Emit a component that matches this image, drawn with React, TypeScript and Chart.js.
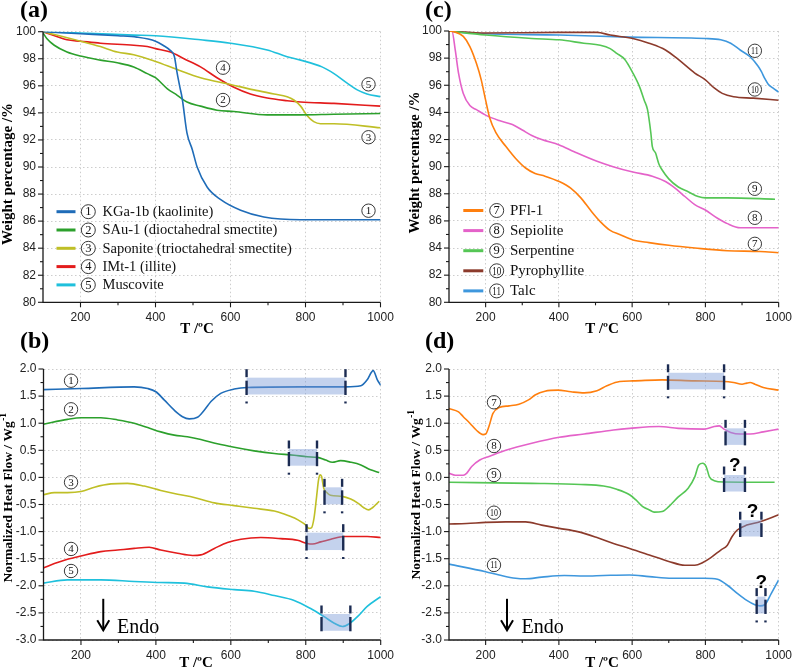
import React, { useEffect, useRef } from "react";
import { Chart, registerables } from "chart.js";
Chart.register(...registerables);

// ---------- axis ticks ----------
const tempTicks = [200, 400, 600, 800, 1000];
const tempMinor = [300, 500, 700, 900];
const tgaTicks = [80, 82, 84, 86, 88, 90, 92, 94, 96, 98, 100];
const tgaMinor = [81, 83, 85, 87, 89, 91, 93, 95, 97, 99];
const dscTicks = [-3, -2.5, -2, -1.5, -1, -0.5, 0, 0.5, 1, 1.5, 2];
const dscMinor = [-2.75, -2.25, -1.75, -1.25, -0.75, -0.25, 0.25, 0.75, 1.25, 1.75];

// ---------- (a) TGA, group 1 ----------
const kgaT = [100, 200, 300, 350, 400, 420, 440, 450, 458, 465, 471, 484, 498, 511, 538, 573, 627, 689, 787, 900, 1000];
const kgaW = [100, 99.85, 99.7, 99.6, 99.3, 99.0, 98.6, 98.2, 96.9, 95.9, 95.1, 92.5, 91.3, 90.0, 88.5, 87.6, 86.8, 86.3, 86.1, 86.1, 86.1];
const sauT = [100, 110, 130, 164, 200, 253, 298, 342, 378, 400, 431, 458, 484, 520, 564, 609, 698, 787, 876, 1000];
const sauW = [99.9, 99.5, 99.0, 98.5, 98.2, 97.9, 97.7, 97.4, 96.9, 96.6, 95.8, 95.3, 94.8, 94.5, 94.2, 94.1, 93.85, 93.85, 93.9, 93.95];
const sapT = [100, 200, 253, 298, 342, 400, 458, 520, 600, 662, 716, 751, 769, 787, 804, 822, 840, 876, 1000];
const sapW = [100, 99.3, 98.9, 98.5, 98.3, 97.8, 97.2, 96.6, 96.1, 95.7, 95.4, 95.2, 94.95, 94.5, 93.8, 93.35, 93.2, 93.2, 92.9];
const imtT = [100, 164, 200, 253, 342, 378, 400, 440, 476, 520, 564, 609, 653, 698, 751, 787, 876, 1000];
const imtW = [100, 99.4, 99.3, 99.15, 99.0, 98.9, 98.75, 98.5, 98.0, 97.4, 96.6, 95.9, 95.4, 95.1, 94.9, 94.8, 94.7, 94.5];
const musT = [100, 200, 342, 400, 520, 600, 698, 751, 787, 844, 876, 911, 938, 964, 1000];
const musW = [100, 99.9, 99.75, 99.7, 99.4, 99.15, 98.65, 98.15, 97.9, 97.4, 96.9, 96.2, 95.7, 95.4, 95.2];

// ---------- (c) TGA, group 2 ----------
const pflT = [100, 113, 139, 157, 175, 188, 200, 211, 228, 255, 282, 309, 335, 362, 401, 433, 460, 486, 513, 540, 566, 602, 646, 700, 771, 860, 949, 1000];
const pflW = [100, 99.95, 99.6, 98.85, 97.6, 96.4, 94.9, 93.6, 92.5, 91.5, 90.6, 89.9, 89.5, 89.3, 88.9, 88.4, 87.7, 86.8, 85.95, 85.3, 85.0, 84.6, 84.4, 84.2, 84.0, 83.8, 83.75, 83.65];
const sepT = [100, 108, 117, 126, 139, 157, 175, 200, 237, 273, 300, 326, 353, 401, 442, 504, 548, 602, 655, 691, 718, 744, 771, 800, 833, 860, 895, 1000];
const sepW = [100, 100, 98.6, 96.9, 95.4, 94.5, 94.2, 93.8, 93.4, 93.1, 92.7, 92.3, 92.0, 91.6, 91.1, 90.4, 90.0, 89.6, 89.3, 88.9, 88.4, 87.8, 87.2, 86.8, 86.2, 85.8, 85.5, 85.5];
const serT = [100, 200, 326, 401, 468, 513, 540, 558, 580, 602, 620, 633, 642, 651, 655, 664, 673, 682, 700, 726, 753, 780, 800, 860, 990];
const serW = [100, 99.7, 99.45, 99.35, 99.1, 98.95, 98.7, 98.35, 97.9, 96.9, 95.9, 94.9, 94.2, 92.5, 91.5, 91.0, 90.2, 89.75, 89.1, 88.5, 88.15, 87.8, 87.7, 87.7, 87.6];
const pyrT = [100, 200, 401, 504, 540, 602, 646, 691, 726, 771, 800, 824, 846, 877, 931, 1000];
const pyrW = [100, 99.85, 99.9, 99.9, 99.7, 99.45, 99.1, 98.6, 97.9, 96.9, 96.4, 95.8, 95.4, 95.15, 95.05, 94.9];
const talcT = [100, 149, 401, 593, 800, 842, 869, 895, 922, 944, 953, 962, 971, 984, 1000];
const talcW = [100, 99.85, 99.7, 99.55, 99.45, 99.35, 99.1, 98.6, 98.1, 97.4, 97.0, 96.5, 96.1, 95.8, 95.5];

// ---------- (b) DSC, group 1 ----------
const kgaHT = [100, 200, 342, 378, 400, 422, 449, 471, 489, 511, 529, 547, 573, 609, 644, 787, 907, 947, 964, 980, 991, 1000];
const kgaHF = [1.62, 1.64, 1.67, 1.64, 1.58, 1.43, 1.24, 1.12, 1.08, 1.11, 1.24, 1.40, 1.55, 1.63, 1.66, 1.67, 1.67, 1.69, 1.80, 1.97, 1.80, 1.70];
const sauHT = [100, 164, 200, 253, 298, 342, 378, 413, 449, 484, 520, 564, 609, 662, 716, 769, 804, 831, 853, 871, 893, 920, 947, 973, 996];
const sauHF = [0.98, 1.07, 1.10, 1.10, 1.06, 1.00, 0.92, 0.84, 0.78, 0.75, 0.70, 0.62, 0.555, 0.49, 0.44, 0.41, 0.38, 0.37, 0.32, 0.28, 0.31, 0.28, 0.23, 0.14, 0.09];
const sapHT = [100, 129, 164, 200, 236, 280, 324, 369, 413, 458, 502, 556, 609, 662, 716, 740, 770, 790, 800, 808, 815, 822, 829, 834, 838, 842, 848, 856, 866, 897, 920, 940, 955, 968, 978, 996];
const sapHF = [-0.32, -0.28, -0.28, -0.26, -0.18, -0.12, -0.11, -0.16, -0.24, -0.31, -0.37, -0.47, -0.52, -0.57, -0.62, -0.67, -0.75, -0.83, -0.88, -0.94, -0.93, -0.75, -0.35, -0.05, 0.05, 0.02, -0.2, -0.28, -0.33, -0.35, -0.40, -0.48, -0.56, -0.60, -0.56, -0.44];
const imtHT = [100, 129, 164, 200, 253, 298, 342, 382, 413, 458, 498, 520, 556, 591, 627, 680, 733, 778, 804, 818, 840, 867, 902, 964, 1000];
const imtHF = [-1.67, -1.59, -1.51, -1.45, -1.37, -1.34, -1.31, -1.29, -1.34, -1.40, -1.44, -1.43, -1.31, -1.20, -1.14, -1.11, -1.13, -1.16, -1.22, -1.23, -1.19, -1.14, -1.09, -1.09, -1.11];
const musHT = [100, 164, 253, 342, 413, 476, 538, 609, 662, 716, 769, 813, 849, 876, 898, 916, 938, 964, 1000];
const musHF = [-1.95, -1.89, -1.89, -1.92, -1.94, -1.95, -2.02, -2.07, -2.10, -2.18, -2.27, -2.42, -2.57, -2.69, -2.75, -2.70, -2.57, -2.38, -2.20];

// ---------- (d) DSC, group 2 ----------
const pflHT = [100, 126, 139, 157, 175, 193, 200, 209, 220, 237, 264, 291, 317, 335, 362, 397, 433, 469, 504, 531, 566, 602, 682, 771, 851, 877, 900, 913, 922, 935, 958, 1000];
const pflHF = [1.27, 1.21, 1.12, 1.00, 0.87, 0.79, 0.80, 0.94, 1.18, 1.29, 1.32, 1.35, 1.43, 1.52, 1.59, 1.61, 1.58, 1.56, 1.60, 1.69, 1.77, 1.78, 1.80, 1.78, 1.77, 1.75, 1.72, 1.74, 1.75, 1.72, 1.66, 1.61];
const sepHT = [100, 117, 139, 148, 162, 184, 211, 255, 326, 401, 469, 549, 593, 673, 726, 797, 824, 838, 851, 869, 895, 922, 958, 1000];
const sepHF = [0.075, 0.04, 0.04, 0.075, 0.2, 0.32, 0.39, 0.5, 0.63, 0.74, 0.80, 0.875, 0.905, 0.94, 0.905, 0.89, 0.94, 0.95, 0.89, 0.83, 0.80, 0.80, 0.84, 0.89];
const serHT = [100, 326, 460, 522, 558, 593, 611, 629, 647, 660, 682, 700, 726, 753, 771, 782, 793, 802, 811, 824, 851, 989];
const serHF = [-0.09, -0.11, -0.13, -0.16, -0.22, -0.32, -0.42, -0.54, -0.60, -0.64, -0.63, -0.54, -0.36, -0.20, 0.01, 0.23, 0.26, 0.20, 0.01, -0.06, -0.085, -0.09];
const pyrHT = [100, 148, 200, 255, 309, 353, 401, 451, 504, 549, 593, 647, 700, 744, 771, 793, 815, 842, 860, 873, 887, 913, 949, 1000];
const pyrHF = [-0.86, -0.85, -0.83, -0.82, -0.82, -0.88, -0.94, -1.00, -1.11, -1.22, -1.31, -1.43, -1.55, -1.62, -1.62, -1.57, -1.48, -1.34, -1.25, -1.09, -0.97, -0.88, -0.82, -0.69];
const talcHT = [100, 200, 237, 282, 309, 353, 415, 469, 522, 593, 647, 709, 797, 833, 860, 887, 913, 935, 949, 962, 980, 1000];
const talcHF = [-1.60, -1.74, -1.80, -1.86, -1.87, -1.84, -1.81, -1.82, -1.81, -1.80, -1.83, -1.86, -1.86, -1.88, -1.99, -2.14, -2.27, -2.35, -2.37, -2.35, -2.14, -1.89];

// ---------- names, numbers, colours ----------
const namesA = ["KGa-1b (kaolinite)", "SAu-1 (dioctahedral smectite)", "Saponite (trioctahedral smectite)", "IMt-1 (illite)", "Muscovite"];
const numsA = [1, 2, 3, 4, 5];
const colorsA = ["#1f6cb8", "#2ca02c", "#bfbf26", "#e31c1c", "#1fc0dc"];
const namesC = ["PFl-1", "Sepiolite", "Serpentine", "Pyrophyllite", "Talc"];
const numsC = [7, 8, 9, 10, 11];
const colorsC = ["#ff7f0e", "#e462c9", "#55c655", "#8c3b2c", "#3e97dd"];

// ---------- annotations: [number, T, value] ----------
const tagsA = [[4, 580, 97.34], [2, 580, 94.95], [5, 968, 96.11], [3, 968, 92.2], [1, 968, 86.77]];
const tagsB = [[1, 173.5, 1.784], [2, 173.5, 1.256], [3, 173.5, -0.09], [4, 173.5, -1.32], [5, 173.5, -1.727]];
const tagsC = [[11, 935, 98.54], [10, 935, 95.69], [9, 935, 88.37], [8, 935, 86.23], [7, 935, 84.31]];
const tagsD = [[7, 222.8, 1.386], [8, 222.8, 0.579], [9, 222.8, 0.044], [10, 222.8, -0.651], [11, 222.8, -1.616]];
// boxes: [T0, T1, v0, v1, dot]
const boxesB = [[642, 906, 1.53, 1.84, 1], [755, 830, 0.216, 0.524, 1], [850, 897, -0.497, -0.183, 1], [802, 900, -1.34, -1.02, 1], [842, 919, -2.83, -2.52, 0]];
const boxesD = [[698, 851, 1.625, 1.93, 1], [855, 908, 0.6, 0.905, 0], [851, 908, -0.26, 0.044, 0], [895, 953, -1.09, -0.79, 0], [940, 964, -2.51, -2.2, 1]];
const questionsD = [[880, 0.109], [928.7, -0.725], [952.7, -2.04]];

const serif = '"Liberation Serif", "Times New Roman", serif';
const sans = '"Liberation Sans", Arial, sans-serif';

function circled(ctx: any, x: number, y: number, r: number, n: number, size: number) {
  ctx.beginPath();
  ctx.arc(x, y, r, 0, Math.PI * 2);
  ctx.lineWidth = 0.9;
  ctx.strokeStyle = "#222";
  ctx.stroke();
  ctx.fillStyle = "#111";
  ctx.textAlign = "center";
  ctx.textBaseline = "middle";
  const s = String(n);
  if (s.length > 1) {
    ctx.save();
    ctx.translate(x, y + 0.5);
    ctx.scale(0.72, 1);
    ctx.font = `${size}px ${serif}`;
    ctx.fillText(s, 0, 0);
    ctx.restore();
  } else {
    ctx.font = `${size}px ${serif}`;
    ctx.fillText(s, x, y + 0.5);
  }
}

function seg(ctx: any, x0: number, y0: number, x1: number, y1: number) {
  ctx.beginPath();
  ctx.moveTo(x0, y0);
  ctx.lineTo(x1, y1);
  ctx.stroke();
}

const decor = {
  id: "decor",
  afterDatasetsDraw(chart: any, _a: any, o: any) {
    const { ctx, scales } = chart;
    const x = scales.x, y = scales.y;
    (o.boxes || []).forEach((b: number[]) => {
      const x0 = x.getPixelForValue(b[0]), x1 = x.getPixelForValue(b[1]);
      const yb = y.getPixelForValue(b[2]), yt = y.getPixelForValue(b[3]);
      ctx.save();
      ctx.fillStyle = "rgba(125,155,215,0.45)";
      ctx.fillRect(x0, yt, x1 - x0, yb - yt);
      ctx.strokeStyle = "#1b2b52";
      ctx.lineWidth = 2.4;
      for (const xx of [x0, x1]) {
        const top = yt - 8.5;
        seg(ctx, xx, top, xx, top + 8);
        seg(ctx, xx, top + 11.5, xx, yb + 0.5);
        if (b[4]) seg(ctx, xx, yb + 7, xx, yb + 9);
      }
      ctx.restore();
    });
  },
  afterDraw(chart: any, _a: any, o: any) {
    const { ctx, chartArea: ca, scales } = chart;
    const x = scales.x, y = scales.y;
    ctx.save();
    // axes + tick marks
    ctx.strokeStyle = "#1a1a1a";
    ctx.lineWidth = 1.3;
    ctx.beginPath();
    ctx.moveTo(ca.left, ca.top);
    ctx.lineTo(ca.left, ca.bottom);
    ctx.lineTo(ca.right, ca.bottom);
    ctx.stroke();
    ctx.lineWidth = 1.1;
    tempTicks.forEach((v) => { const p = x.getPixelForValue(v); seg(ctx, p, ca.bottom, p, ca.bottom + 5); });
    tempMinor.forEach((v) => { const p = x.getPixelForValue(v); seg(ctx, p, ca.bottom, p, ca.bottom + 3); });
    o.yMajor.forEach((v: number) => { const p = y.getPixelForValue(v); seg(ctx, ca.left - 5, p, ca.left, p); });
    o.yMinor.forEach((v: number) => { const p = y.getPixelForValue(v); seg(ctx, ca.left - 3, p, ca.left, p); });

    // panel letter
    ctx.fillStyle = "#000";
    ctx.font = `bold 24px ${serif}`;
    ctx.textAlign = "left";
    ctx.textBaseline = "alphabetic";
    ctx.fillText(o.letter, o.letterPos[0], o.letterPos[1]);

    // x title
    ctx.font = `bold 15px ${serif}`;
    ctx.textAlign = "center";
    ctx.fillText("T /ºC", o.xTitlePos[0], o.xTitlePos[1]);

    // y title
    ctx.save();
    ctx.translate(o.yTitlePos[0], o.yTitlePos[1]);
    ctx.rotate(-Math.PI / 2);
    ctx.textBaseline = "middle";
    ctx.font = `bold ${o.yTitleSize}px ${serif}`;
    const w1 = ctx.measureText(o.yTitle).width;
    let w2 = 0;
    if (o.yTitleSup) {
      ctx.font = `bold ${o.yTitleSize - 4}px ${serif}`;
      w2 = ctx.measureText(o.yTitleSup).width;
    }
    const start = -(w1 + w2) / 2;
    ctx.textAlign = "left";
    ctx.font = `bold ${o.yTitleSize}px ${serif}`;
    ctx.fillText(o.yTitle, start, 0);
    if (o.yTitleSup) {
      ctx.font = `bold ${o.yTitleSize - 4}px ${serif}`;
      ctx.fillText(o.yTitleSup, start + w1 + 0.5, -5);
    }
    ctx.restore();

    // circled tags on curves
    (o.tags || []).forEach((t: number[]) => {
      circled(ctx, x.getPixelForValue(t[1]), y.getPixelForValue(t[2]), 6.7, t[0], 11);
    });

    // legend
    if (o.legend) {
      const L = o.legend;
      chart.data.datasets.forEach((ds: any, i: number) => {
        const yy = L.y0 + i * L.dy;
        ctx.strokeStyle = ds.borderColor;
        ctx.lineWidth = 3;
        seg(ctx, L.x0, yy, L.x1, yy);
        circled(ctx, L.cx, yy, 7, L.nums[i], 12.5);
        ctx.fillStyle = "#111";
        ctx.font = `${L.size}px ${serif}`;
        ctx.textAlign = "left";
        ctx.textBaseline = "middle";
        ctx.fillText(ds.label, L.tx, yy + 0.5);
      });
    }

    // Endo arrow
    if (o.endo) {
      const e = o.endo;
      const ax = x.getPixelForValue(e[0]);
      const ay0 = y.getPixelForValue(e[1]), ay1 = y.getPixelForValue(e[2]);
      ctx.strokeStyle = "#000";
      ctx.lineWidth = 2;
      seg(ctx, ax, ay0, ax, ay1);
      ctx.beginPath();
      ctx.moveTo(ax - 6, ay1 - 10);
      ctx.lineTo(ax, ay1);
      ctx.lineTo(ax + 6, ay1 - 10);
      ctx.stroke();
      ctx.fillStyle = "#000";
      ctx.font = `20px ${serif}`;
      ctx.textAlign = "left";
      ctx.textBaseline = "alphabetic";
      ctx.fillText("Endo", x.getPixelForValue(e[3]), y.getPixelForValue(e[4]));
    }

    // question marks
    (o.questions || []).forEach((q: number[]) => {
      ctx.fillStyle = "#000";
      ctx.font = `bold 19px ${sans}`;
      ctx.textAlign = "center";
      ctx.textBaseline = "alphabetic";
      ctx.fillText("?", x.getPixelForValue(q[0]), y.getPixelForValue(q[1]));
    });
    ctx.restore();
  },
};

type Panel = {
  series: { label: string; color: string; t: number[]; v: number[] }[];
  yMin: number; yMax: number; yTicks: number[]; yMinor: number[]; fmt: (v: number) => string;
  area: { l: number; r: number; t: number; b: number };
  decor: any;
};

function mk(names: string[], colors: string[], ts: number[][], vs: number[][]) {
  return names.map((n, i) => ({ label: n, color: colors[i], t: ts[i], v: vs[i] }));
}

const fmtInt = (v: number) => String(v);
const fmt1 = (v: number) => v.toFixed(1);

const panels: Panel[] = [
  {
    series: mk(namesA, colorsA, [kgaT, sauT, sapT, imtT, musT], [kgaW, sauW, sapW, imtW, musW]),
    yMin: 80, yMax: 100, yTicks: tgaTicks, yMinor: tgaMinor, fmt: fmtInt,
    area: { l: 43, r: 380.5, t: 31.7, b: 302.3 },
    decor: {
      letter: "(a)", letterPos: [20, 17], xTitlePos: [197, 333], yTitlePos: [8.5, 174], yTitle: "Weight percentage /%", yTitleSize: 15,
      tags: tagsA,
      legend: { x0: 56.5, x1: 75.5, cx: 88.3, tx: 102.5, y0: 211.7, dy: 18.3, size: 14.5, nums: numsA },
    },
  },
  {
    series: mk(namesA, colorsA, [kgaHT, sauHT, sapHT, imtHT, musHT], [kgaHF, sauHF, sapHF, imtHF, musHF]),
    yMin: -3, yMax: 2, yTicks: dscTicks, yMinor: dscMinor, fmt: fmt1,
    area: { l: 43.5, r: 380.7, t: 369, b: 640 },
    decor: {
      letter: "(b)", letterPos: [20, 348], xTitlePos: [196, 667], yTitlePos: [8.5, 498], yTitle: "Normalized Heat Flow / Wg", yTitleSup: "-1", yTitleSize: 13.5,
      tags: tagsB, boxes: boxesB, endo: [259.5, -2.24, -2.82, 296.5, -2.87],
    },
  },
  {
    series: mk(namesC, colorsC, [pflT, sepT, serT, pyrT, talcT], [pflW, sepW, serW, pyrW, talcW]),
    yMin: 80, yMax: 100, yTicks: tgaTicks, yMinor: tgaMinor, fmt: fmtInt,
    area: { l: 449, r: 786, t: 31, b: 302.3 },
    decor: {
      letter: "(c)", letterPos: [425, 17], xTitlePos: [602, 333], yTitlePos: [415, 162.5], yTitle: "Weight percentage /%", yTitleSize: 15,
      tags: tagsC,
      legend: { x0: 463.3, x1: 483.3, cx: 496.7, tx: 510, y0: 210.5, dy: 20.1, size: 15, nums: numsC },
    },
  },
  {
    series: mk(namesC, colorsC, [pflHT, sepHT, serHT, pyrHT, talcHT], [pflHF, sepHF, serHF, pyrHF, talcHF]),
    yMin: -3, yMax: 2, yTicks: dscTicks, yMinor: dscMinor, fmt: fmt1,
    area: { l: 449, r: 786, t: 369, b: 640 },
    decor: {
      letter: "(d)", letterPos: [425, 348], xTitlePos: [602, 667], yTitlePos: [416.5, 495], yTitle: "Normalized Heat Flow / Wg", yTitleSup: "-1", yTitleSize: 13.5,
      tags: tagsD, boxes: boxesD, questions: questionsD, endo: [258.4, -2.24, -2.82, 298, -2.87],
    },
  },
];

function makeConfig(p: Panel): any {
  const XH = 26, YW = 40;
  const gridCol = "#cdcdcd";
  return {
    type: "line",
    data: {
      datasets: p.series.map((s) => ({
        label: s.label,
        data: s.t.map((t, i) => ({ x: t, y: s.v[i] })),
        borderColor: s.color,
        backgroundColor: s.color,
        borderWidth: 1.6,
        pointRadius: 0,
        cubicInterpolationMode: "monotone",
        fill: false,
      })),
    },
    options: {
      responsive: false,
      animation: false,
      events: [],
      devicePixelRatio: 1,
      layout: { padding: { left: p.area.l - YW, right: 800 - p.area.r, top: p.area.t, bottom: 669 - p.area.b - XH } },
      plugins: { legend: { display: false }, tooltip: { enabled: false }, decor: { ...p.decor, yMajor: p.yTicks, yMinor: p.yMinor } },
      scales: {
        x: {
          type: "linear", min: 100, max: 1000,
          afterBuildTicks: (s: any) => { s.ticks = tempTicks.map((v) => ({ value: v })); },
          afterFit: (s: any) => { s.height = XH; },
          grid: { color: gridCol, lineWidth: 1, drawTicks: false },
          border: { display: false, dash: [1.5, 2.5] },
          ticks: { padding: 8, color: "#222", font: { family: sans, size: 12 }, maxRotation: 0, autoSkip: false, callback: (v: any) => String(v) },
        },
        y: {
          type: "linear", min: p.yMin, max: p.yMax,
          afterBuildTicks: (s: any) => { s.ticks = p.yTicks.map((v) => ({ value: v })); },
          afterFit: (s: any) => { s.width = YW; },
          grid: { color: gridCol, lineWidth: 1, drawTicks: false },
          border: { display: false, dash: [1.5, 2.5] },
          ticks: { padding: 7, color: "#222", font: { family: sans, size: 12 }, autoSkip: false, callback: (v: any) => p.fmt(Number(v)) },
        },
      },
    },
    plugins: [decor],
  };
}

export default function App() {
  const refs = useRef<(HTMLCanvasElement | null)[]>([]);
  useEffect(() => {
    const charts = panels.map((p, i) => new Chart(refs.current[i] as HTMLCanvasElement, makeConfig(p)));
    return () => charts.forEach((c) => c.destroy());
  }, []);
  return (
    <div style={{ position: "absolute", left: 0, top: 0, width: 800, height: 669, background: "#fff" }}>
      {panels.map((_, i) => (
        <canvas
          key={i}
          ref={(el) => { refs.current[i] = el; }}
          width={800}
          height={669}
          style={{ position: "absolute", left: 0, top: 0, width: 800, height: 669 }}
        />
      ))}
    </div>
  );
}
